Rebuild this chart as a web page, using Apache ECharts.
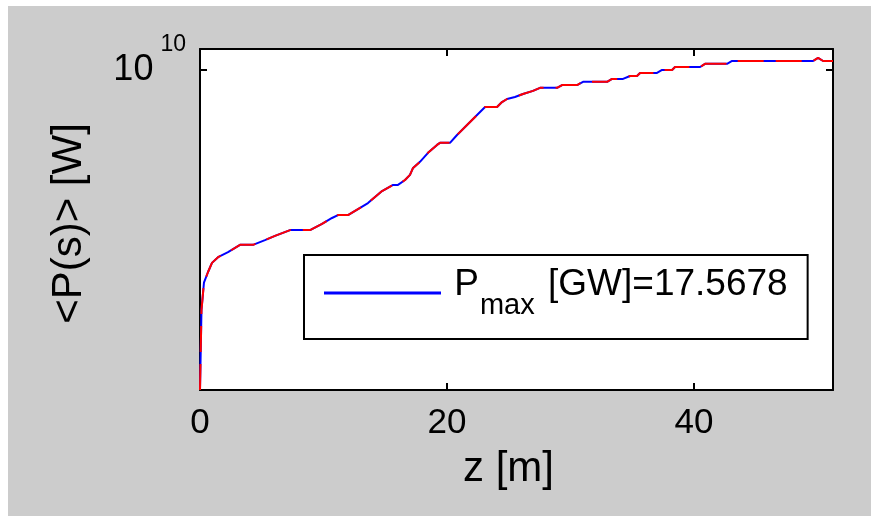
<!DOCTYPE html>
<html>
<head>
<meta charset="utf-8">
<script src="https://cdn.jsdelivr.net/npm/echarts@6/dist/echarts.min.js"></script>
<style>
  html, body { margin: 0; padding: 0; background: #ffffff; }
  #chart { width: 871px; height: 516px; }
</style>
</head>
<body>
<div id="chart"></div>
<script>
// z positions [m]
const zValues = [0, 0.12, 0.32, 0.65, 0.97, 1.46, 2.27, 3.24, 4.29, 5.26, 6.07, 7.29, 8.91, 9.88, 10.69, 11.17, 11.98, 12.96, 13.6, 14.17, 14.74, 15.63, 16.03, 16.6, 17.0, 17.25, 17.81, 18.46, 19.19, 19.43, 20.24, 20.81, 21.62, 22.43, 23.08, 24.05, 24.45, 24.86, 25.5, 26.15, 26.96, 27.53, 28.91, 29.31, 30.53, 31.01, 32.96, 33.36, 34.25, 34.82, 35.38, 35.63, 37.0, 37.41, 38.22, 38.46, 40.49, 40.89, 42.67, 43.08, 49.64, 50.04, 50.45, 51.25];
// average power <P(s)> [W]
const powerValues = [2.00e9, 2.99e9, 3.43e9, 3.62e9, 3.79e9, 3.90e9, 4.00e9, 4.15e9, 4.15e9, 4.25e9, 4.34e9, 4.47e9, 4.47e9, 4.61e9, 4.75e9, 4.82e9, 4.82e9, 5.00e9, 5.12e9, 5.28e9, 5.44e9, 5.61e9, 5.61e9, 5.75e9, 5.90e9, 6.11e9, 6.30e9, 6.59e9, 6.86e9, 6.93e9, 6.93e9, 7.21e9, 7.58e9, 7.97e9, 8.30e9, 8.30e9, 8.51e9, 8.64e9, 8.73e9, 8.86e9, 9.00e9, 9.14e9, 9.14e9, 9.27e9, 9.27e9, 9.42e9, 9.42e9, 9.56e9, 9.56e9, 9.70e9, 9.70e9, 9.85e9, 9.85e9, 1.000e10, 1.000e10, 1.015e10, 1.015e10, 1.031e10, 1.031e10, 1.046e10, 1.046e10, 1.062e10, 1.046e10, 1.046e10];
const xTickLabels = [0, 20, 40];
const yTickValues = [1e10];
const legendLabel = 'P_max [GW]=17.5678';

const FONT = "'Liberation Sans', Arial, Helvetica, sans-serif";
const pts = zValues.map((z, i) => [z, powerValues[i]]);

const chart = echarts.init(document.getElementById('chart'), null, { renderer: 'canvas' });
chart.setOption({
  animation: false,
  backgroundColor: '#ffffff',
  textStyle: { fontFamily: FONT },
  graphic: [{
    type: 'rect', z: -10, silent: true,
    shape: { x: 8, y: 6, width: 871, height: 516 },
    style: { fill: '#cccccc' }
  }],
  grid: {
    left: 200, right: 38, top: 49, bottom: 126,
    show: true, backgroundColor: '#ffffff', borderWidth: 0
  },
  legend: {
    data: [legendLabel],
    left: 304, top: 255,
    backgroundColor: '#ffffff',
    borderColor: '#000000', borderWidth: 2, borderRadius: 0,
    padding: [11, 20, 19, 20],
    itemWidth: 117, itemHeight: 3,
    icon: 'rect',
    selectedMode: false,
    formatter: function () { return '{g| }{p|P}{sub|max}{a| [GW]=17.5678}'; },
    textStyle: {
      fontFamily: FONT, color: '#000',
      rich: {
        g: { fontFamily: FONT, fontSize: 1, lineHeight: 54, verticalAlign: 'middle' },
        p: { fontFamily: FONT, fontSize: 37, lineHeight: 36, verticalAlign: 'top', padding: [0, 0, 0, 8], color: '#000' },
        sub: { fontFamily: FONT, fontSize: 29, lineHeight: 29, verticalAlign: 'bottom', padding: [0, 3, 0, 1], color: '#000' },
        a: { fontFamily: FONT, fontSize: 37, lineHeight: 36, verticalAlign: 'top', color: '#000' }
      }
    }
  },
  xAxis: [{
    type: 'value', min: 0, max: 51.25, interval: 20, position: 'bottom',
    name: 'z [m]', nameLocation: 'middle', nameGap: 58,
    nameTextStyle: { fontFamily: FONT, fontSize: 42, color: '#000', padding: [0, 16, 0, 0] },
    axisLine: { show: true, onZero: false, lineStyle: { color: '#000', width: 2 } },
    axisTick: { show: true, inside: true, length: 7, customValues: [20, 40], lineStyle: { color: '#000', width: 2 } },
    axisLabel: { show: true, customValues: xTickLabels, margin: 16, fontFamily: FONT, fontSize: 35, color: '#000' },
    splitLine: { show: false }
  }, {
    type: 'value', min: 0, max: 51.25, interval: 20, position: 'top',
    axisLine: { show: true, onZero: false, lineStyle: { color: '#000', width: 2 } },
    axisTick: { show: true, inside: true, length: 7, customValues: [20, 40], lineStyle: { color: '#000', width: 2 } },
    axisLabel: { show: false },
    splitLine: { show: false }
  }],
  yAxis: [{
    type: 'log', logBase: 10, min: 2.0e9, max: 1.111e10, position: 'left',
    name: '<P(s)> [W]', nameLocation: 'middle', nameGap: 110, nameRotate: 90,
    nameTextStyle: { fontFamily: FONT, fontSize: 42, color: '#000', padding: [0, 8, 0, 0] },
    axisLine: { show: true, onZero: false, lineStyle: { color: '#000', width: 2 } },
    axisTick: { show: true, inside: true, length: 7, customValues: yTickValues, lineStyle: { color: '#000', width: 2 } },
    axisLabel: {
      show: true, customValues: yTickValues, margin: 14,
      formatter: function () { return '{g| }{b|10}{sup|10}'; },
      rich: {
        g: { fontFamily: FONT, fontSize: 1, lineHeight: 73, verticalAlign: 'middle' },
        b: { fontFamily: FONT, fontSize: 36, lineHeight: 36, verticalAlign: 'middle', color: '#000' },
        sup: { fontFamily: FONT, fontSize: 23, lineHeight: 23, verticalAlign: 'top', padding: [0, 0, 0, 7], color: '#000' }
      }
    },
    splitLine: { show: false }
  }, {
    type: 'log', logBase: 10, min: 2.0e9, max: 1.111e10, position: 'right',
    axisLine: { show: true, onZero: false, lineStyle: { color: '#000', width: 2 } },
    axisTick: { show: true, inside: true, length: 7, customValues: yTickValues, lineStyle: { color: '#000', width: 2 } },
    axisLabel: { show: false },
    splitLine: { show: false }
  }],
  series: [{
    name: legendLabel, type: 'line', xAxisIndex: 0, yAxisIndex: 0,
    data: pts, showSymbol: false, symbol: 'none',
    lineStyle: { color: '#0000ff', width: 2, type: 'solid' },
    itemStyle: { color: '#0000ff' },
    clip: true, z: 2
  }, {
    name: 'avg-power-dashed', type: 'line', xAxisIndex: 0, yAxisIndex: 0,
    data: pts, showSymbol: false, symbol: 'none',
    lineStyle: { color: '#ff0000', width: 2, type: [26, 12] },
    itemStyle: { color: '#ff0000' },
    clip: true, z: 3
  }]
});
</script>
</body>
</html>
